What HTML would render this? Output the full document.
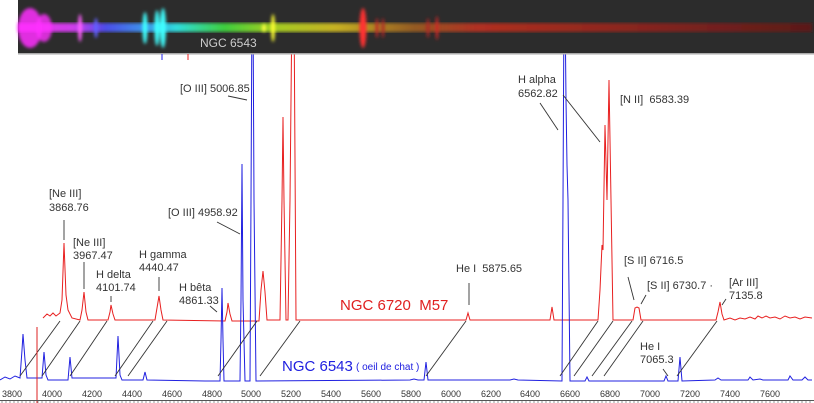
<!DOCTYPE html>
<html><head><meta charset="utf-8"><style>
html,body{margin:0;padding:0;background:#fff}
svg{display:block}
text{font-family:"Liberation Sans",Arial,sans-serif}
</style></head><body>
<svg width="814" height="403" viewBox="0 0 814 403" xmlns="http://www.w3.org/2000/svg">
<defs>
<linearGradient id="sp" x1="18" x2="812" gradientUnits="userSpaceOnUse">
<stop offset="0" stop-color="#ff33ff"/>
<stop offset="0.07" stop-color="#e040ff"/>
<stop offset="0.11" stop-color="#5050ff"/>
<stop offset="0.16" stop-color="#3fa0ff"/>
<stop offset="0.2" stop-color="#30f0f0"/>
<stop offset="0.26" stop-color="#40e040"/>
<stop offset="0.32" stop-color="#b0e020"/>
<stop offset="0.4" stop-color="#d8c020"/>
<stop offset="0.5" stop-color="#a06020"/>
<stop offset="0.58" stop-color="#c03020"/>
<stop offset="1" stop-color="#601818"/>
</linearGradient>
<filter id="bl"><feGaussianBlur stdDeviation="1.5"/></filter>
</defs>
<polyline fill="none" stroke="#e82020" stroke-width="1" points="43,318 47,314 50,316 53,313 56,316 60,313 62,300 64,243 66,295 68,310 72,318 80,320 82,310 84,292 86,312 88,320 108,320 110,312 111,305 113,314 115,320 155,320 157,308 159,296 161,310 163,320 225,321 227,312 228,303 230,314 232,321 259,321 261,290 263,271 265,292 267,320 280,320 282,200 283,117 284,200 286,320 288,320 290,200 292,0 294,0 296,320 466,320 468,313 470,320 550,320 552,307 554,320 598,320 600,290 602,245 603,250 605,125 607,200 609,80 611,200 613,320 633,320 635,308 637,307 639,308 641,320 716,320 718,312 720,302 722,314 724,320 730,318 735,320 740,318 745,319 750,317 755,319 758,316 762,318 766,316 770,318 775,317 780,319 785,316 790,318 795,317 800,319 805,317 812,318"/>
<polyline fill="none" stroke="#2020e0" stroke-width="1" points="0,380 5,377 10,379 15,376 20,378 22,350 23,334 25,360 27,378 42,378 44,352 46,375 48,380 68,380 70,357 72,378 116,378 118,336 120,375 122,380 143,380 145,372 147,380 205,381 220,381 221,340 222,288 223,340 224,381 240,381 241,300 242,164 243,300 245,381 250,381 251,200 252,0 253,0 254,200 256,381 410,380 414,379 418,380 424,380 426,362 428,380 510,380 514,379 518,380 562,381 563,200 564,0 565,0 566,100 567,165 568,200 570,381 585,381 587,377 589,381 664,381 666,376 668,381 678,381 680,357 682,381 715,380 718,378 721,380 748,380 750,377 753,380 760,379 763,380 788,380 790,376 793,380 802,380 805,377 808,380 812,380"/>
<rect x="18" y="0" width="796" height="54" fill="#2c2c2c"/>
<rect x="18" y="53" width="796" height="1.5" fill="#aaa"/>
<rect x="18" y="23" width="794" height="9" fill="url(#sp)" filter="url(#bl)" opacity="0.9"/>
<g filter="url(#bl)">
<ellipse cx="30" cy="28" rx="12" ry="20" fill="#ff30ff" opacity="0.85"/>
<ellipse cx="44" cy="28" rx="8" ry="14" fill="#ff30ff" opacity="0.8"/>
<ellipse cx="80" cy="28" rx="2" ry="14" fill="#ff60ff"/>
<ellipse cx="96" cy="28" rx="2" ry="10" fill="#6060ff"/>
<ellipse cx="145" cy="28" rx="2.5" ry="16" fill="#40ffff"/>
<ellipse cx="157" cy="28" rx="2.5" ry="18" fill="#40ffff"/>
<ellipse cx="163" cy="28" rx="3" ry="20" fill="#40ffff"/>
<ellipse cx="264" cy="28" rx="2" ry="4" fill="#ffff40"/>
<ellipse cx="273" cy="28" rx="2" ry="14" fill="#ffff30"/>
<ellipse cx="363" cy="28" rx="3.5" ry="20" fill="#ff3030"/>
<ellipse cx="377" cy="28" rx="1.5" ry="10" fill="#c02828"/>
<ellipse cx="383" cy="28" rx="1.5" ry="10" fill="#b02525"/>
<ellipse cx="428" cy="28" rx="1.5" ry="10" fill="#b02525"/>
<ellipse cx="437" cy="28" rx="1.5" ry="12" fill="#d02828"/>
</g>
<text x="200" y="47" font-size="12" fill="#ccc">NGC 6543</text>
<line x1="162" y1="54" x2="162" y2="60" stroke="#22e"/>
<line x1="188" y1="54" x2="188" y2="60" stroke="#e22"/>
<g stroke="#333" stroke-width="0.9">
<line x1="60" y1="321" x2="20" y2="376"/>
<line x1="80" y1="321" x2="42" y2="376"/>
<line x1="107" y1="321" x2="70" y2="376"/>
<line x1="153" y1="321" x2="115" y2="376"/>
<line x1="167" y1="321" x2="128" y2="376"/>
<line x1="257" y1="321" x2="218" y2="376"/>
<line x1="300" y1="321" x2="260" y2="376"/>
<line x1="466" y1="321" x2="426" y2="376"/>
<line x1="598" y1="321" x2="560" y2="376"/>
<line x1="613" y1="321" x2="574" y2="376"/>
<line x1="632" y1="321" x2="592" y2="376"/>
<line x1="643" y1="321" x2="604" y2="376"/>
<line x1="717" y1="321" x2="677" y2="376"/>
<line x1="228" y1="96" x2="247" y2="100"/>
<line x1="64" y1="220" x2="64" y2="240"/>
<line x1="217" y1="222" x2="240" y2="234"/>
<line x1="84" y1="262" x2="84" y2="289"/>
<line x1="159" y1="277" x2="159" y2="291"/>
<line x1="111" y1="296" x2="111" y2="302"/>
<line x1="210" y1="306" x2="217" y2="312"/>
<line x1="540" y1="103" x2="558" y2="130"/>
<line x1="563" y1="95" x2="600" y2="142"/>
<line x1="469" y1="283" x2="469" y2="305"/>
<line x1="628" y1="277" x2="634" y2="300"/>
<line x1="646" y1="295" x2="641" y2="304"/>
<line x1="726" y1="299" x2="722" y2="305"/>
<line x1="663" y1="369" x2="668" y2="376"/>
</g>
<line x1="37" y1="327" x2="37" y2="403" stroke="#d22" stroke-width="1"/>
<g font-size="11" fill="#333">
<text x="180" y="92">[O III] 5006.85</text>
<text x="49" y="197">[Ne III]</text><text x="49" y="211">3868.76</text>
<text x="168" y="216">[O III] 4958.92</text>
<text x="73" y="246">[Ne III]</text><text x="73" y="259">3967.47</text>
<text x="139" y="258">H gamma</text><text x="139" y="271">4440.47</text>
<text x="96" y="278">H delta</text><text x="96" y="291">4101.74</text>
<text x="179" y="291">H bêta</text><text x="179" y="304">4861.33</text>
<text x="518" y="83">H alpha</text><text x="518" y="97">6562.82</text>
<text x="620" y="103" xml:space="preserve">[N II]  6583.39</text>
<text x="456" y="272" xml:space="preserve">He I  5875.65</text>
<text x="624" y="264">[S II] 6716.5</text>
<text x="647" y="289">[S II] 6730.7 ·</text>
<text x="729" y="286">[Ar III]</text><text x="729" y="299">7135.8</text>
<text x="640" y="350">He I</text><text x="640" y="363">7065.3</text>
</g>
<text x="340" y="310" font-size="15" fill="#e02020" xml:space="preserve">NGC 6720  M57</text>
<text x="282" y="371" font-size="15" fill="#2020e0">NGC 6543</text>
<text x="356" y="370" font-size="10" fill="#2020e0">( oeil de chat )</text>
<line x1="0" y1="400.5" x2="814" y2="400.5" stroke="#555"/>
<g stroke="#555" stroke-width="0.6">
<path d="M2,400v3M6,400v3M10,400v3M14,400v3M18,400v3M22,400v3M26,400v3M30,400v3M34,400v3M38,400v3M42,400v3M46,400v3M50,400v3M54,400v3M58,400v3M62,400v3M66,400v3M70,400v3M74,400v3M78,400v3M82,400v3M86,400v3M90,400v3M94,400v3M98,400v3M102,400v3M106,400v3M110,400v3M114,400v3M118,400v3M122,400v3M126,400v3M130,400v3M134,400v3M138,400v3M142,400v3M146,400v3M150,400v3M154,400v3M158,400v3M162,400v3M166,400v3M170,400v3M174,400v3M178,400v3M182,400v3M186,400v3M190,400v3M194,400v3M198,400v3M202,400v3M206,400v3M210,400v3M214,400v3M218,400v3M222,400v3M226,400v3M230,400v3M234,400v3M238,400v3M242,400v3M246,400v3M250,400v3M254,400v3M258,400v3M262,400v3M266,400v3M270,400v3M274,400v3M278,400v3M282,400v3M286,400v3M290,400v3M294,400v3M298,400v3M302,400v3M306,400v3M310,400v3M314,400v3M318,400v3M322,400v3M326,400v3M330,400v3M334,400v3M338,400v3M342,400v3M346,400v3M350,400v3M354,400v3M358,400v3M362,400v3M366,400v3M370,400v3M374,400v3M378,400v3M382,400v3M386,400v3M390,400v3M394,400v3M398,400v3M402,400v3M406,400v3M410,400v3M414,400v3M418,400v3M422,400v3M426,400v3M430,400v3M434,400v3M438,400v3M442,400v3M446,400v3M450,400v3M454,400v3M458,400v3M462,400v3M466,400v3M470,400v3M474,400v3M478,400v3M482,400v3M486,400v3M490,400v3M494,400v3M498,400v3M502,400v3M506,400v3M510,400v3M514,400v3M518,400v3M522,400v3M526,400v3M530,400v3M534,400v3M538,400v3M542,400v3M546,400v3M550,400v3M554,400v3M558,400v3M562,400v3M566,400v3M570,400v3M574,400v3M578,400v3M582,400v3M586,400v3M590,400v3M594,400v3M598,400v3M602,400v3M606,400v3M610,400v3M614,400v3M618,400v3M622,400v3M626,400v3M630,400v3M634,400v3M638,400v3M642,400v3M646,400v3M650,400v3M654,400v3M658,400v3M662,400v3M666,400v3M670,400v3M674,400v3M678,400v3M682,400v3M686,400v3M690,400v3M694,400v3M698,400v3M702,400v3M706,400v3M710,400v3M714,400v3M718,400v3M722,400v3M726,400v3M730,400v3M734,400v3M738,400v3M742,400v3M746,400v3M750,400v3M754,400v3M758,400v3M762,400v3M766,400v3M770,400v3M774,400v3M778,400v3M782,400v3M786,400v3M790,400v3M794,400v3M798,400v3M802,400v3M806,400v3M810,400v3"/>
</g>
<g font-size="9" fill="#333" text-anchor="middle">
<text x="12" y="397">3800</text><text x="52" y="397">4000</text><text x="92" y="397">4200</text>
<text x="132" y="397">4400</text><text x="172" y="397">4600</text><text x="212" y="397">4800</text>
<text x="251" y="397">5000</text><text x="291" y="397">5200</text><text x="331" y="397">5400</text>
<text x="371" y="397">5600</text><text x="411" y="397">5800</text><text x="451" y="397">6000</text>
<text x="491" y="397">6200</text><text x="530" y="397">6400</text><text x="570" y="397">6600</text>
<text x="610" y="397">6800</text><text x="650" y="397">7000</text><text x="690" y="397">7200</text>
<text x="730" y="397">7400</text><text x="770" y="397">7600</text>
</g>
</svg>
</body></html>
